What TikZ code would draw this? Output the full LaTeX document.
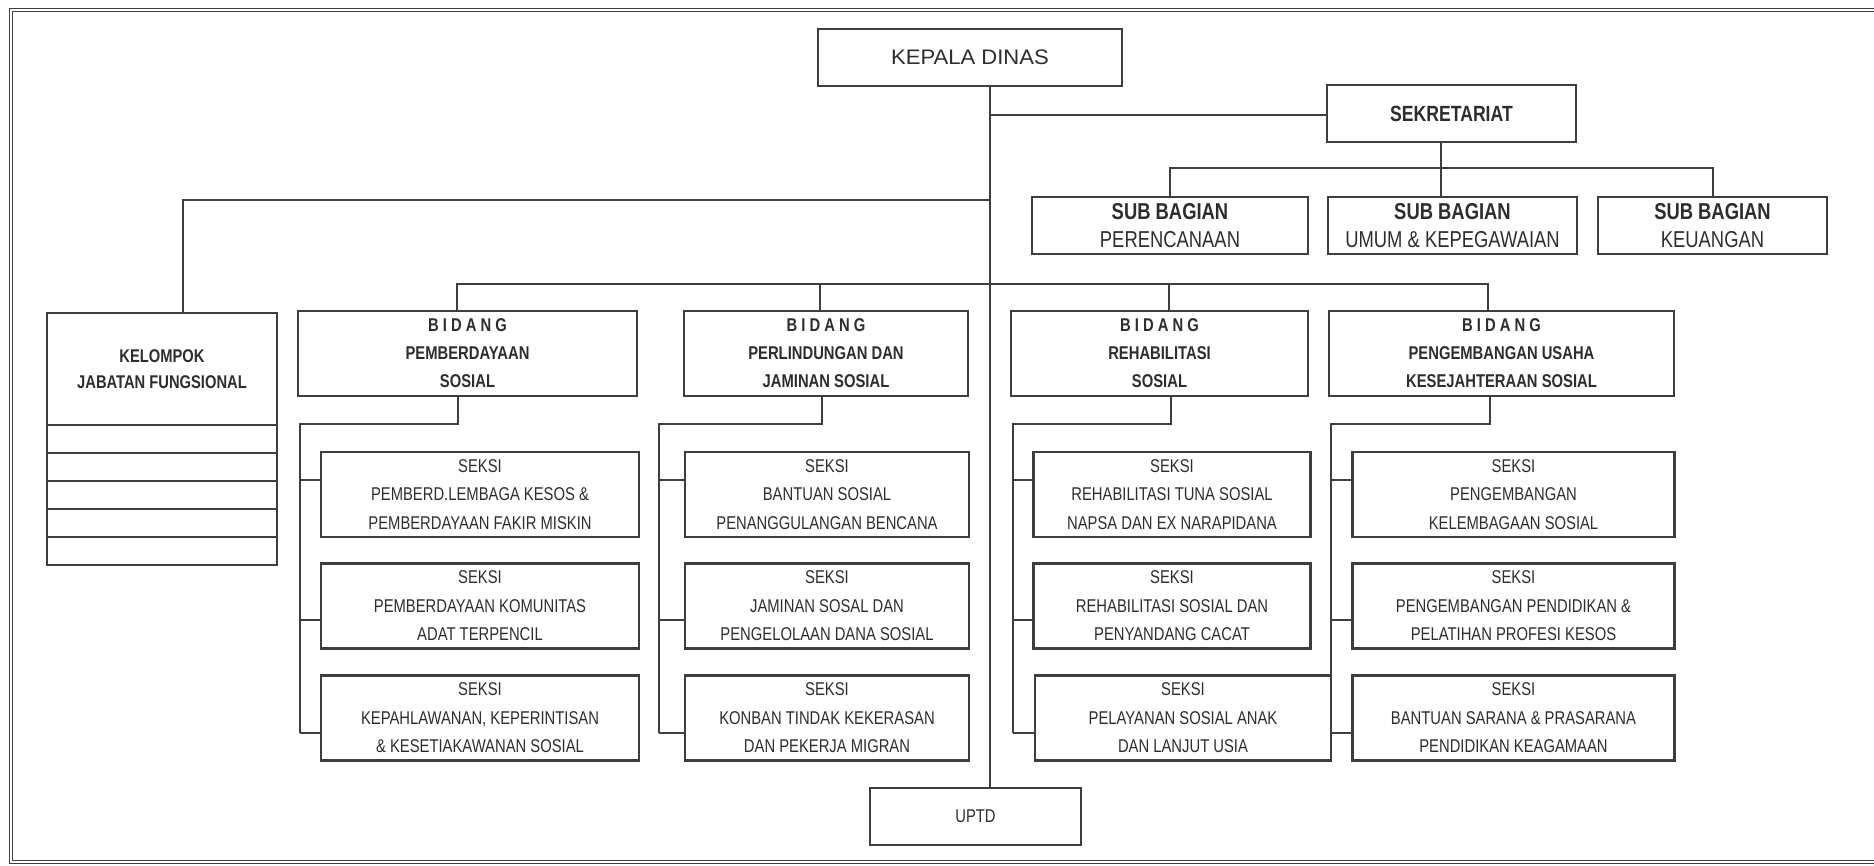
\documentclass[tikz,border=0pt]{standalone}
\usepackage{fontspec}
\setmainfont{Liberation Sans}
\newfontfamily\narf{Liberation Sans}[FakeStretch=0.8]
\newfontfamily\widef{Liberation Sans}[FakeStretch=1.05]
\definecolor{lc}{RGB}{62,62,62}
\definecolor{tc}{RGB}{45,45,45}
\begin{document}
\begin{tikzpicture}[x=1pt,y=-1pt,
  box/.style={draw=lc, line width=2.2pt, inner sep=0pt, align=center, text=tc},
  seksi/.style={box, minimum height=85pt, font=\narf\fontsize{18.5}{28.5}\selectfont},
  bidang/.style={box, minimum height=85pt, font=\narf\bfseries\fontsize{18.5}{28}\selectfont},
  subbox/.style={box, minimum height=57pt, font=\narf\fontsize{23}{28}\selectfont},
  conn/.style={draw=lc, line width=2pt},
  framestyle/.style={draw=lc, double=white, double distance=1.6pt, line width=1.1pt}]
\useasboundingbox (0,0) rectangle (1874,866);
% frame
\draw[framestyle] (1874,10) -- (11,10) -- (11,862) -- (1874,862);

% top level
\node[box, minimum width=304pt, minimum height=57pt, font=\widef\fontsize{21}{25}\selectfont] (kepala) at (970,57.5) {KEPALA DINAS};
\node[box, minimum width=249pt, minimum height=57pt, font=\narf\bfseries\fontsize{22}{26}\selectfont] (sekr) at (1451.5,113.5) {SEKRETARIAT};
\node[subbox, minimum width=276pt] (sub1) at (1170,225.5) {\textbf{SUB BAGIAN}\\PERENCANAAN};
\node[subbox, minimum width=249pt] (sub2) at (1452.5,225.5) {\textbf{SUB BAGIAN}\\UMUM \& KEPEGAWAIAN};
\node[subbox, minimum width=229pt] (sub3) at (1712.5,225.5) {\textbf{SUB BAGIAN}\\KEUANGAN};

% kelompok
\node[box, minimum width=230pt, minimum height=112pt, font=\narf\bfseries\fontsize{18.4}{26}\selectfont] (kel) at (162,369) {KELOMPOK\\JABATAN FUNGSIONAL};
\foreach \i/\y in {1/439,2/467,3/495,4/523,5/551}
  \node[box, minimum width=230pt, minimum height=28pt] (kr\i) at (162,\y) {};

% bidang
\node[bidang, minimum width=339pt] (b1) at (467.5,353.5) {B I D A N G\\PEMBERDAYAAN\\SOSIAL};
\node[bidang, minimum width=284pt] (b2) at (826,353.5) {B I D A N G\\PERLINDUNGAN DAN\\JAMINAN SOSIAL};
\node[bidang, minimum width=297pt] (b3) at (1159.5,353.5) {B I D A N G\\REHABILITASI\\SOSIAL};
\node[bidang, minimum width=345pt] (b4) at (1501.5,353.5) {B I D A N G\\PENGEMBANGAN USAHA\\KESEJAHTERAAN SOSIAL};

% seksi column 1
\node[seksi, minimum width=318pt] (s11) at (480,494.5) {SEKSI\\PEMBERD.LEMBAGA KESOS \&\\PEMBERDAYAAN FAKIR MISKIN};
\node[seksi, minimum width=318pt] (s12) at (480,606) {SEKSI\\PEMBERDAYAAN KOMUNITAS\\ADAT TERPENCIL};
\node[seksi, minimum width=318pt] (s13) at (480,718) {SEKSI\\KEPAHLAWANAN, KEPERINTISAN\\\& KESETIAKAWANAN SOSIAL};
% column 2
\node[seksi, minimum width=284pt] (s21) at (827,494.5) {SEKSI\\BANTUAN SOSIAL\\PENANGGULANGAN BENCANA};
\node[seksi, minimum width=284pt] (s22) at (827,606) {SEKSI\\JAMINAN SOSAL DAN\\PENGELOLAAN DANA SOSIAL};
\node[seksi, minimum width=284pt] (s23) at (827,718) {SEKSI\\KONBAN TINDAK KEKERASAN\\DAN PEKERJA MIGRAN};
% column 3
\node[seksi, minimum width=277pt] (s31) at (1172,494.5) {SEKSI\\REHABILITASI TUNA SOSIAL\\NAPSA DAN EX NARAPIDANA};
\node[seksi, minimum width=277pt] (s32) at (1172,606) {SEKSI\\REHABILITASI SOSIAL DAN\\PENYANDANG CACAT};
\node[seksi, minimum width=296pt] (s33) at (1183,718) {SEKSI\\PELAYANAN SOSIAL ANAK\\DAN LANJUT USIA};
% column 4
\node[seksi, minimum width=322pt] (s41) at (1513.5,494.5) {SEKSI\\PENGEMBANGAN\\KELEMBAGAAN SOSIAL};
\node[seksi, minimum width=322pt] (s42) at (1513.5,606) {SEKSI\\PENGEMBANGAN PENDIDIKAN \&\\PELATIHAN PROFESI KESOS};
\node[seksi, minimum width=322pt] (s43) at (1513.5,718) {SEKSI\\BANTUAN SARANA \& PRASARANA\\PENDIDIKAN KEAGAMAAN};

% UPTD
\node[box, minimum width=211pt, minimum height=57pt, font=\narf\fontsize{18.5}{22}\selectfont] (uptd) at (975.5,816.5) {UPTD};

% trunk and top connectors
\coordinate (tr) at (990,0);
\draw[conn] (kepala.south -| tr) -- (uptd.north -| tr);
\coordinate (sk) at (990,115);
\draw[conn] (sk) -- (sk -| sekr.west);
\coordinate (sb) at (1441,168);
\draw[conn] (sekr.south -| sb) -- (sb |- sub2.north);
\draw[conn] (sub1.north) -- (sub1.north |- sb) -- (sub3.north |- sb) -- (sub3.north);
\coordinate (kj) at (183,200);
\draw[conn] (kj -| tr) -- (kj) -- (kj |- kel.north);

% bidang bus
\coordinate (bl) at (457,284);
\coordinate (d2) at (820,284);
\coordinate (d3) at (1169,284);
\coordinate (br) at (1488,284);
\draw[conn] (bl |- b1.north) -- (bl) -- (br) -- (br |- b4.north);
\draw[conn] (d2) -- (d2 |- b2.north);
\draw[conn] (d3) -- (d3 |- b3.north);

% seksi connectors
\coordinate (r1) at (0,480);
\coordinate (r2) at (0,620);
\coordinate (r3) at (0,733);
\foreach \c/\t/\v in {1/458/300, 2/822/659, 3/1171/1013, 4/1490/1331} {
  \coordinate (t\c) at (\t,424);
  \coordinate (v\c) at (\v,424);
  \draw[conn] (t\c |- b\c.south) -- (t\c) -- (v\c) -- (v\c |- r3);
  \draw[conn] (v\c |- r1) -- (s\c1.west |- r1);
  \draw[conn] (v\c |- r2) -- (s\c2.west |- r2);
  \draw[conn] (v\c |- r3) -- (s\c3.west |- r3);
}
\end{tikzpicture}
\end{document}
